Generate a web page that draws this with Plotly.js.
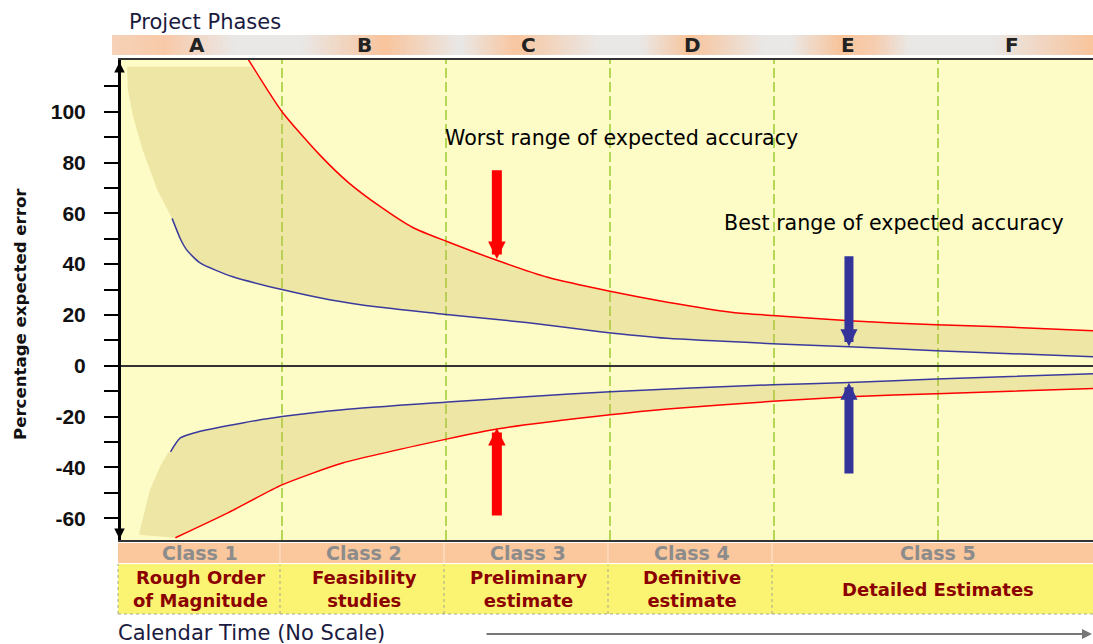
<!DOCTYPE html>
<html><head><meta charset="utf-8">
<script src="https://cdn.plot.ly/plotly-3.0.1.min.js"></script>
<style>html,body{margin:0;padding:0;background:#fff;}#chart{width:1093px;height:644px;}</style>
</head><body><div id="chart"></div>
<script>
// ---------------- DATA ----------------
const phases = ['A','B','C','D','E','F'];
const phaseCenters = [0.48,1.5,2.5,3.5,4.45,5.45];
const phaseBoundaries = [1,2,3,4,5];
const classLabels = ['Class 1','Class 2','Class 3','Class 4','Class 5'];
const classCenters = [0.5,1.5,2.5,3.5,5.0];
const classDescriptions = ['Rough Order<br>of Magnitude','Feasibility<br>studies','Preliminary<br>estimate','Definitive<br>estimate','Detailed Estimates'];

// Worst range (red) upper and lower curves, x in phase units
const worstUpperX = [0.79,1.0,1.23,1.40,1.60,1.80,2.01,2.31,2.62,3.0,3.35,3.75,3.99,4.46,4.99,5.38,5.95];
const worstUpperY = [121,100,83,72.4,62.6,54.3,48.8,41.5,34.8,29.3,25,21,19.8,17.7,16.1,15.3,13.8];
const worstLowerX = [0.35,0.67,1.0,1.37,2.01,2.32,3.0,3.35,3.99,4.46,4.99,5.95];
const worstLowerY = [-67.7,-57.9,-46.9,-38.3,-28.8,-24.8,-19.3,-17,-14,-12.2,-11,-9];
// Best range (blue) upper and lower curves
const bestUpperX = [0.33,0.38,0.42,0.50,0.70,1.0,1.29,1.60,1.94,2.49,2.94,3.35,3.99,4.46,4.99,5.95];
const bestUpperY = [58,50,45.5,40.5,35,30,26,23,20.6,17,13.4,10.8,8.7,7.5,5.9,3.5];
const bestLowerX = [0.32,0.38,0.50,0.76,1.0,1.37,2.01,2.49,3.0,3.99,4.46,4.99,5.95];
const bestLowerY = [-33.9,-28.4,-25.8,-22.5,-20,-17.3,-14.3,-12.2,-10.2,-7.5,-6.6,-5.2,-3.1];
// Shaded area boundaries in phase A
const shadeTopY = 117.7;
const shadeTopRightX = 0.81;
const shadeUpperEdgeX = [0.055,0.06,0.09,0.15,0.24];
const shadeUpperEdgeY = [117.7,108.6,98.7,85,69.2];
const shadeLowerEdgeX = [0.13,0.13,0.195,0.256,0.305];
const shadeLowerEdgeY = [-66.5,-65.7,-48.8,-39.8,-34.3];

// Indicator arrows [x, tipY, tailY]
const worstArrows = [[2.31,42,77.5],[2.31,-24.5,-59.5]];
const bestArrows = [[4.457,7.6,43.7],[4.457,-6.7,-43]];

const yTickVals = [-60,-50,-40,-30,-20,-10,0,10,20,30,40,50,60,70,80,90,100,110];
const yTickText = ['-60','','-40','','-20','','0','','20','','40','','60','','80','','100',''];

// ---------------- STYLE / GEOMETRY ----------------
const FONT = 'DejaVu Sans';
const L = 121, W = 972, T = 60, H = 480;
const pxX = p => (p - L) / W;
const pxY = p => (T + H - p) / H;
const RED = '#ff0000', BLUE = '#3a3a9c', BLUE_ARROW = '#33339a';

// Shade polygons
const upperPolyX = [shadeUpperEdgeX[0], shadeTopRightX]
  .concat(worstUpperX.slice(1))
  .concat(bestUpperX.slice().reverse())
  .concat(shadeUpperEdgeX.slice().reverse());
const upperPolyY = [shadeTopY, shadeTopY]
  .concat(worstUpperY.slice(1))
  .concat(bestUpperY.slice().reverse())
  .concat(shadeUpperEdgeY.slice().reverse());
const lowerPolyX = bestLowerX.concat(worstLowerX.slice().reverse()).concat(shadeLowerEdgeX);
const lowerPolyY = bestLowerY.concat(worstLowerY.slice().reverse()).concat(shadeLowerEdgeY);

const SHADE = 'rgba(205,182,85,0.3)';
const curve = (c) => ({color:c, width:1.5, shape:'spline', smoothing:0.6});
const traces = [
  {x: upperPolyX, y: upperPolyY, type:'scatter', mode:'lines', fill:'toself', fillcolor: SHADE, line:{width:0}, hoverinfo:'skip'},
  {x: lowerPolyX, y: lowerPolyY, type:'scatter', mode:'lines', fill:'toself', fillcolor: SHADE, line:{width:0}, hoverinfo:'skip'},
  {x: worstUpperX, y: worstUpperY, type:'scatter', mode:'lines', line:curve(RED), hoverinfo:'skip'},
  {x: worstLowerX, y: worstLowerY, type:'scatter', mode:'lines', line:curve(RED), hoverinfo:'skip'},
  {x: bestUpperX, y: bestUpperY, type:'scatter', mode:'lines', line:curve(BLUE), hoverinfo:'skip'},
  {x: bestLowerX, y: bestLowerY, type:'scatter', mode:'lines', line:curve(BLUE), hoverinfo:'skip'}
];

const shapes = [];
// phase boundary dashed lines
phaseBoundaries.forEach(b => shapes.push({type:'line', xref:'x', yref:'paper', x0:b, x1:b, y0:0, y1:1,
  line:{color:'#9acd32', width:1.5, dash:'10px,4px'}, layer:'below'}));

// header gradient band
const headerStops = [
 [112,[246,210,184]],[165,[248,201,168]],[235,[233,232,231]],[300,[233,232,231]],[385,[248,196,156]],
 [460,[233,232,231]],[515,[248,198,160]],[600,[233,232,231]],[640,[233,232,231]],[690,[248,196,156]],
 [765,[233,232,231]],[790,[233,232,231]],[840,[248,196,156]],[875,[246,205,175]],[910,[233,232,231]],
 [990,[233,232,231]],[1093,[248,196,156]]];
function stopColor(p){
  for (let i=0;i<headerStops.length-1;i++){
    const a=headerStops[i], b=headerStops[i+1];
    if (p>=a[0] && p<=b[0]){
      const t=(p-a[0])/(b[0]-a[0]);
      const c=a[1].map((v,k)=>Math.round(v+(b[1][k]-v)*t));
      return 'rgb('+c.join(',')+')';
    }
  }
  const l=headerStops[headerStops.length-1][1];
  return 'rgb('+l.join(',')+')';
}
for (let p=112;p<1093;p+=3){
  shapes.push({type:'rect', xref:'paper', yref:'paper', x0:pxX(p), x1:pxX(p+3.6), y0:pxY(55), y1:pxY(35),
    fillcolor: stopColor(p+1.5), line:{width:0}, layer:'above'});
}
// class band
shapes.push({type:'rect', xref:'paper', yref:'paper', x0:pxX(118), x1:pxX(1094), y0:pxY(563), y1:pxY(543),
  fillcolor:'#fbc79c', line:{width:0}});
// description band
shapes.push({type:'rect', xref:'paper', yref:'paper', x0:pxX(118), x1:pxX(1094), y0:pxY(614), y1:pxY(564),
  fillcolor:'#fbf472', line:{width:0}});
shapes.push({type:'line', xref:'paper', yref:'paper', x0:pxX(118), x1:pxX(1094), y0:pxY(614), y1:pxY(614),
  line:{color:'#a8a890', width:1, dash:'dot'}});
shapes.push({type:'line', xref:'paper', yref:'paper', x0:pxX(118), x1:pxX(118), y0:pxY(614), y1:pxY(564),
  line:{color:'#a8a890', width:1, dash:'dot'}});
[1,2,3,4].forEach(b => {
  const xp = L + (b - 0.0183) * W / (5.945 - 0.0183) - 2;
  shapes.push({type:'line', xref:'paper', yref:'paper', x0:pxX(xp), x1:pxX(xp), y0:pxY(563), y1:pxY(543),
    line:{color:'#fde6d4', width:1}});
  shapes.push({type:'line', xref:'paper', yref:'paper', x0:pxX(xp), x1:pxX(xp), y0:pxY(614), y1:pxY(565),
    line:{color:'#a8a890', width:1, dash:'dot'}});
});

const annotations = [];
annotations.push({xref:'paper', yref:'paper', x:pxX(127), y:pxY(22), xanchor:'left', yanchor:'middle',
  text:'Project Phases', showarrow:false, font:{family:FONT, size:21, color:'#1a1a40'}});
phases.forEach((p,i) => annotations.push({xref:'x', yref:'paper', x:phaseCenters[i], y:pxY(45),
  xanchor:'center', yanchor:'middle', text:'<b>'+p+'</b>', showarrow:false, font:{family:FONT, size:20, color:'#222'}}));
classLabels.forEach((c,i) => annotations.push({xref:'x', yref:'paper', x:classCenters[i], y:pxY(553),
  xanchor:'center', yanchor:'middle', text:'<b>'+c+'</b>', showarrow:false, font:{family:FONT, size:19, color:'#8c8c8c'}}));
classDescriptions.forEach((c,i) => annotations.push({xref:'x', yref:'paper', x:classCenters[i], y:pxY(589),
  xanchor:'center', yanchor:'middle', text:'<b>'+c+'</b>', showarrow:false, font:{family:FONT, size:18, color:'#8b0000'}}));
annotations.push({xref:'paper', yref:'paper', x:pxX(116), y:pxY(633), xanchor:'left', yanchor:'middle',
  text:'Calendar Time (No Scale)', showarrow:false, font:{family:FONT, size:21, color:'#1a1a40'}});
annotations.push({xref:'paper', yref:'paper', x:pxX(1097), y:pxY(634), ax:485-1097, ay:0, text:'',
  showarrow:true, arrowhead:2, arrowwidth:2, arrowsize:1, arrowcolor:'#777'});
annotations.push({xref:'paper', yref:'paper', x:pxX(20), y:pxY(314), xanchor:'center', yanchor:'middle',
  text:'<b>Percentage expected error</b>', textangle:-90, showarrow:false, font:{family:FONT, size:16.6, color:'#111'}});
annotations.push({xref:'x', yref:'y', x:3.067, y:89.8, text:'Worst range of expected accuracy', showarrow:false,
  font:{family:FONT, size:20.6, color:'#000'}});
annotations.push({xref:'x', yref:'y', x:4.732, y:56.3, text:'Best range of expected accuracy', showarrow:false,
  font:{family:FONT, size:20.6, color:'#000'}});
worstArrows.forEach(a => annotations.push({xref:'x', yref:'y', axref:'x', ayref:'y', x:a[0], y:a[1], ax:a[0], ay:a[2],
  text:'', showarrow:true, arrowhead:2, arrowwidth:10, arrowsize:0.35, arrowcolor:RED}));
bestArrows.forEach(a => annotations.push({xref:'x', yref:'y', axref:'x', ayref:'y', x:a[0], y:a[1], ax:a[0], ay:a[2],
  text:'', showarrow:true, arrowhead:2, arrowwidth:9, arrowsize:0.38, arrowcolor:BLUE_ARROW}));
// axis arrowheads
annotations.push({xref:'paper', yref:'paper', x:pxX(119.5), y:pxY(62), ax:0, ay:14, text:'', showarrow:true,
  arrowhead:2, arrowwidth:3, arrowsize:0.7, arrowcolor:'#000'});
annotations.push({xref:'paper', yref:'paper', x:pxX(119.5), y:pxY(539), ax:0, ay:-14, text:'', showarrow:true,
  arrowhead:2, arrowwidth:3, arrowsize:0.7, arrowcolor:'#000'});

const layout = {
  width:1093, height:644,
  margin:{l:L, r:0, t:T, b:104, pad:0},
  paper_bgcolor:'#ffffff', plot_bgcolor:'#fdfbc6',
  showlegend:false, hovermode:false,
  xaxis:{range:[0.0183,5.945], showgrid:false, zeroline:false, showticklabels:false, ticks:'',
    showline:true, mirror:true, linecolor:'#333', linewidth:2, fixedrange:true},
  yaxis:{range:[-68.6,120.35], tickvals:yTickVals, ticktext:yTickText, ticks:'outside', ticklen:14, tickwidth:2,
    tickcolor:'#000', showgrid:false, zeroline:true, zerolinecolor:'#333', zerolinewidth:2,
    showline:true, linecolor:'#000', linewidth:3, ticklabelstandoff:14,
    tickfont:{family:'Liberation Sans', size:21, color:'#111', weight:'bold'}, fixedrange:true},
  shapes: shapes, annotations: annotations
};
Plotly.newPlot('chart', traces, layout, {displayModeBar:false, staticPlot:true});
</script>
</body></html>
